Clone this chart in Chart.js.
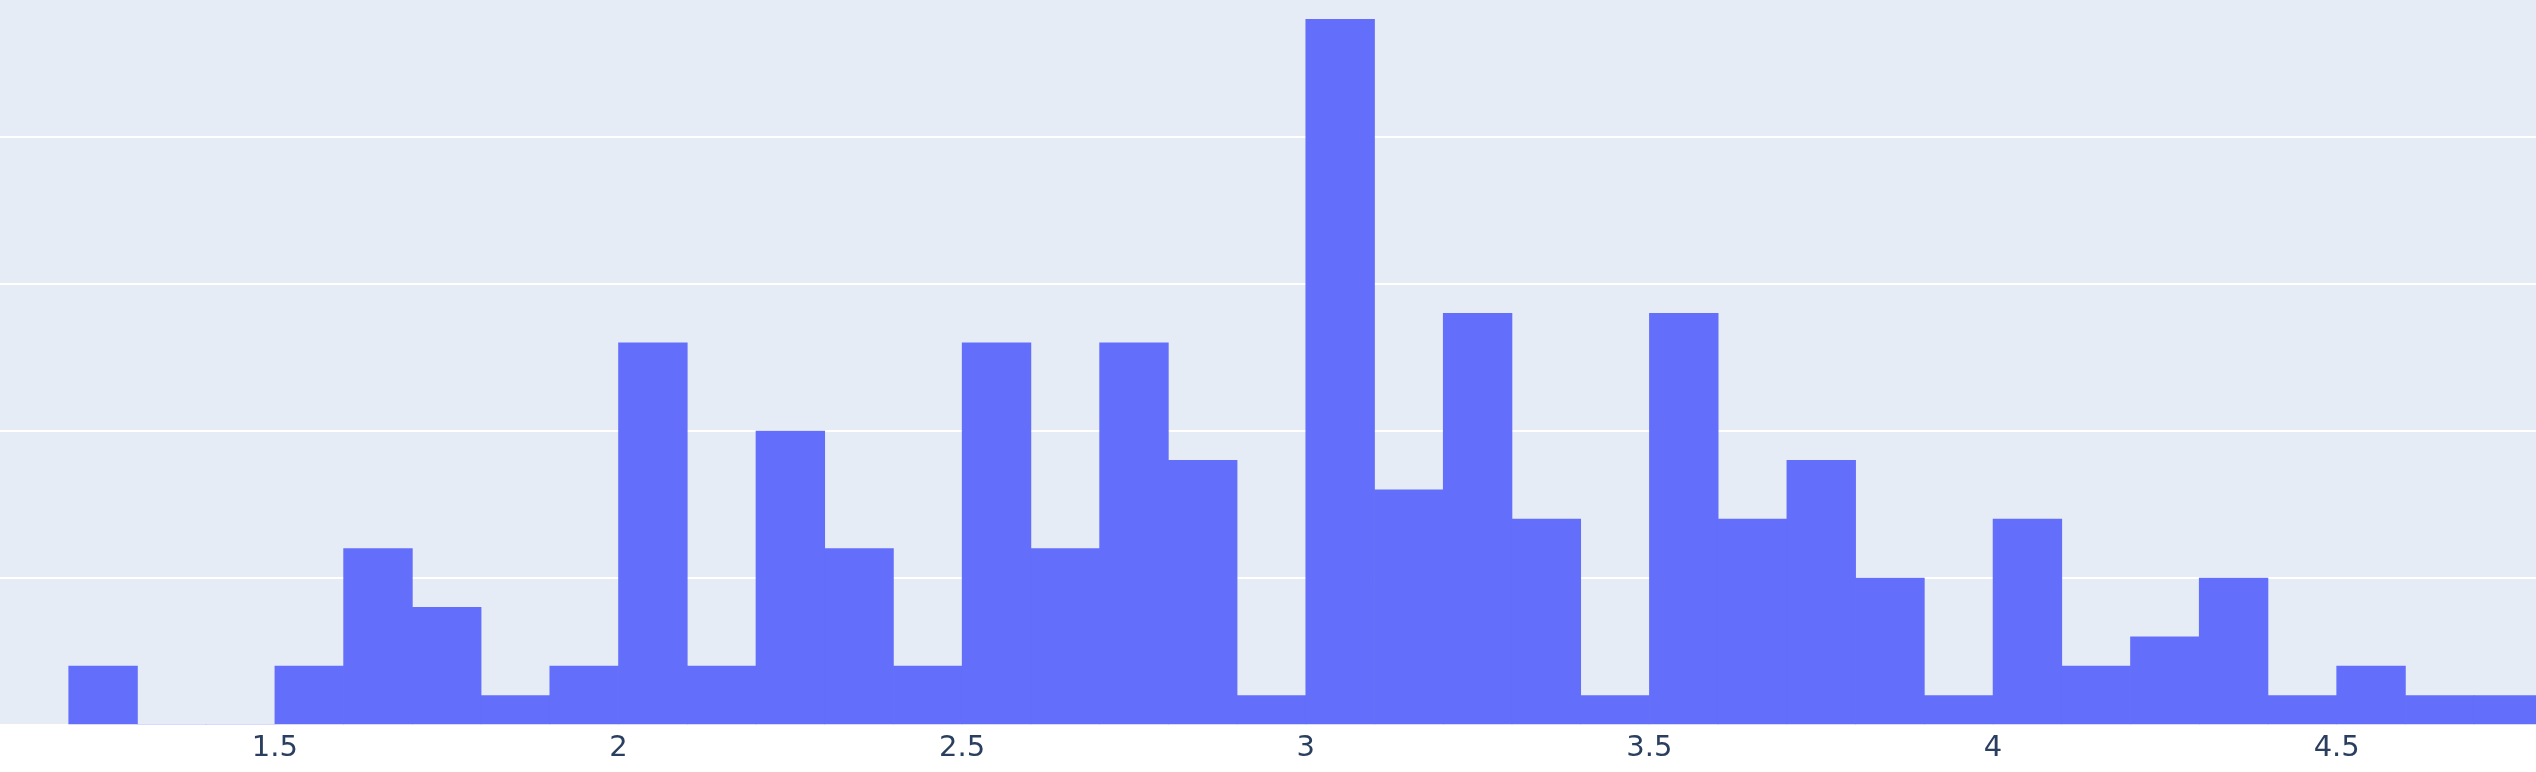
<!DOCTYPE html>
<html>
<head>
<meta charset="utf-8">
<script src="https://cdn.jsdelivr.net/npm/chart.js@4/dist/chart.umd.min.js"></script>
<style>
  html, body { margin: 0; padding: 0; background: #ffffff; }
  #wrap { width: 2536px; height: 772px; }
</style>
</head>
<body>
<div id="wrap"><canvas id="c" width="2536" height="772"></canvas></div>
<script>
// Histogram bins (left edges), bin width and counts
const binStarts = [1.2, 1.3, 1.4, 1.5, 1.6, 1.7, 1.8, 1.9, 2.0, 2.1, 2.2, 2.3, 2.4, 2.5, 2.6, 2.7, 2.8, 2.9,
                   3.0, 3.1, 3.2, 3.3, 3.4, 3.5, 3.6, 3.7, 3.8, 3.9, 4.0, 4.1, 4.2, 4.3, 4.4, 4.5, 4.6, 4.7];
const binWidth = 0.1;
const counts = [2, 0, 0, 2, 6, 4, 1, 2, 13, 2, 10, 6, 2, 13, 6, 13, 9, 1,
                24, 8, 14, 7, 1, 14, 7, 9, 5, 1, 7, 2, 3, 5, 1, 2, 1, 1];
const xTickValues = [1.5, 2, 2.5, 3, 3.5, 4, 4.5];
const xTickLabels = ['1.5', '2', '2.5', '3', '3.5', '4', '4.5'];
const yGridValues = [0, 5, 10, 15, 20];

const points = binStarts.map((s, i) => ({ x: s + binWidth / 2, y: counts[i] }));

const plotBg = {
  id: 'plotBg',
  beforeDraw(chart) {
    const { ctx, chartArea: a } = chart;
    ctx.save();
    ctx.fillStyle = '#e5ecf6';
    ctx.fillRect(a.left, a.top, a.right - a.left, a.bottom - a.top);
    ctx.restore();
  }
};

new Chart(document.getElementById('c'), {
  type: 'bar',
  data: {
    datasets: [{
      data: points,
      backgroundColor: '#636efa',
      borderWidth: 0,
      barPercentage: 1.0,
      categoryPercentage: 1.0
    }]
  },
  options: {
    responsive: false,
    devicePixelRatio: 1,
    animation: false,
    layout: { padding: 0 },
    plugins: { legend: { display: false }, tooltip: { enabled: false } },
    scales: {
      x: {
        type: 'linear',
        offset: false,
        min: 1.1,
        max: 4.79,
        grid: { display: false, drawTicks: false },
        border: { display: false },
        afterBuildTicks: (scale) => { scale.ticks = xTickValues.map(v => ({ value: v })); },
        afterFit: (scale) => { scale.height = 47; },
        ticks: {
          includeBounds: false,
          autoSkip: false,
          maxRotation: 0,
          padding: 6,
          color: '#2a3f5f',
          font: { family: 'Verdana, "DejaVu Sans", sans-serif', size: 29 },
          callback: (v) => { const i = xTickValues.indexOf(v); return i >= 0 ? xTickLabels[i] : ''; }
        }
      },
      y: {
        type: 'linear',
        min: 0,
        max: 24.66,
        afterBuildTicks: (scale) => { scale.ticks = yGridValues.map(v => ({ value: v })); },
        afterFit: (scale) => { scale.width = 0; },
        grid: { color: '#ffffff', lineWidth: 2, drawTicks: false },
        border: { display: false },
        ticks: { display: false }
      }
    }
  },
  plugins: [plotBg]
});
</script>
</body>
</html>
